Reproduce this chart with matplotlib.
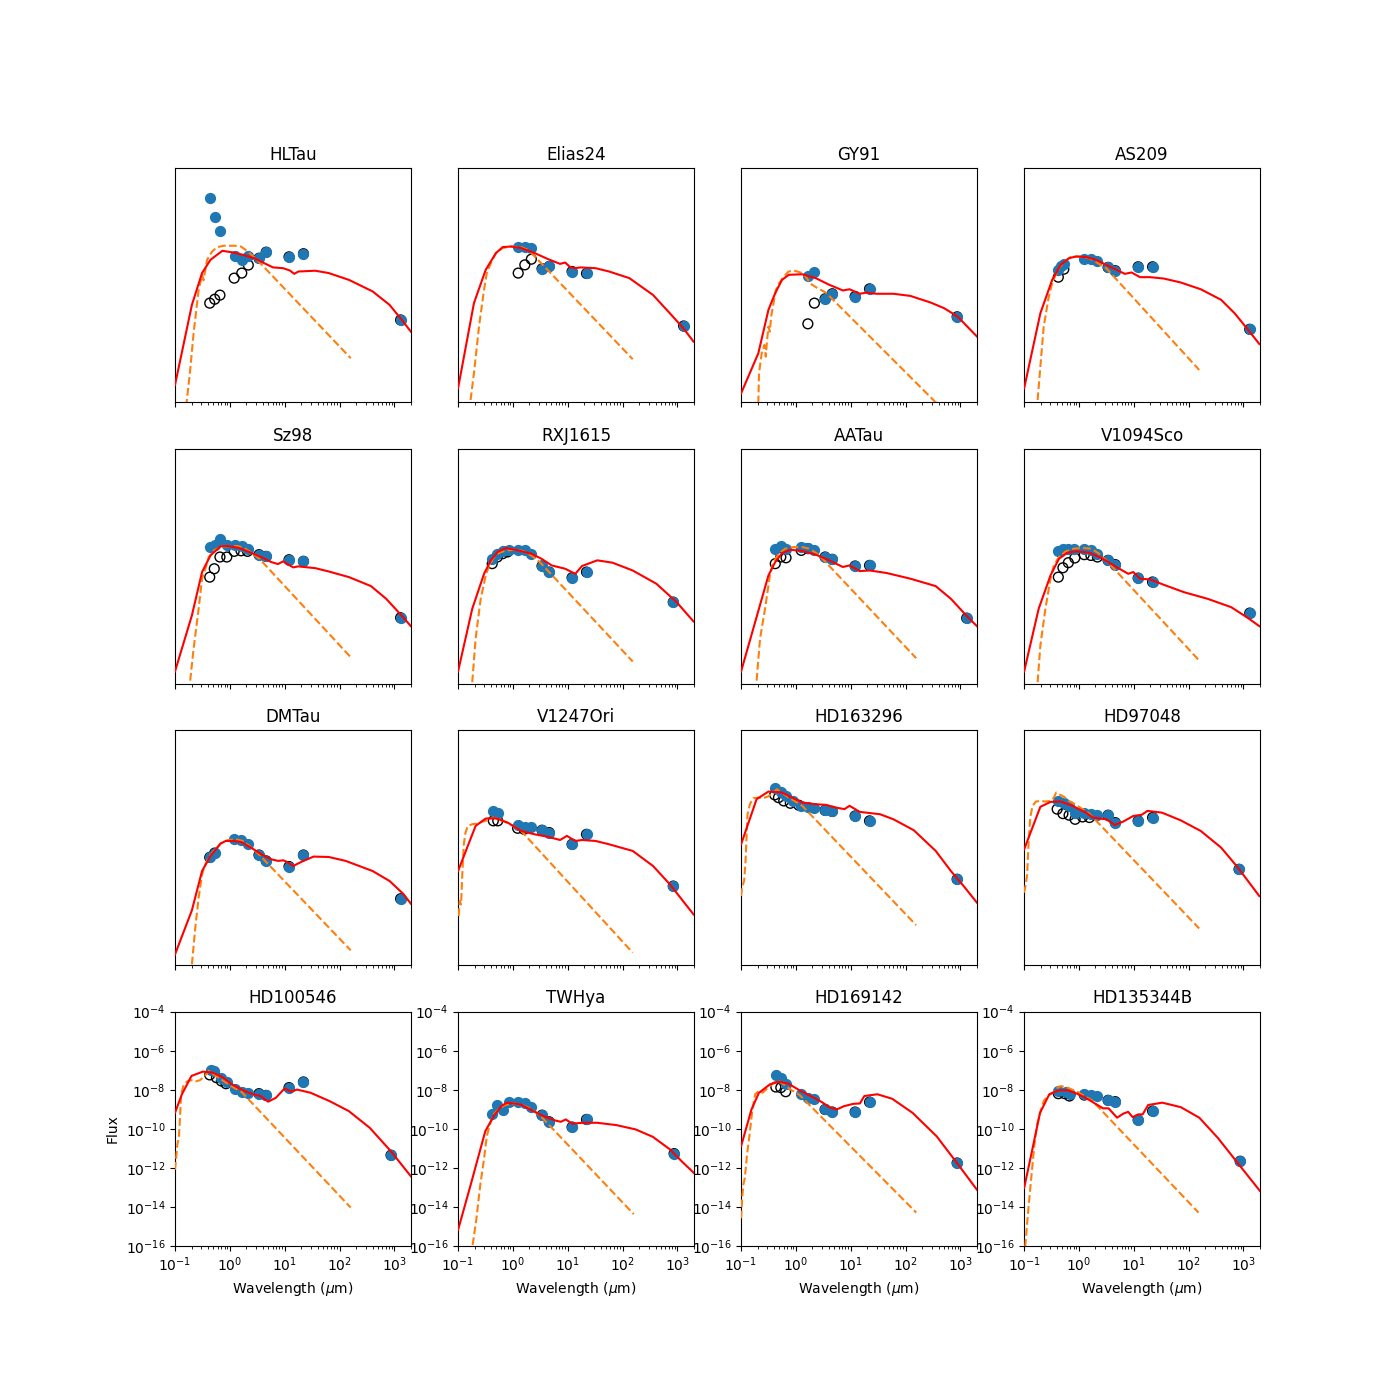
import numpy as np
import matplotlib
matplotlib.use('Agg')
import matplotlib.pyplot as plt
from matplotlib.ticker import NullLocator

names = ['HLTau', 'Elias24', 'GY91', 'AS209',
         'Sz98', 'RXJ1615', 'AATau', 'V1094Sco',
         'DMTau', 'V1247Ori', 'HD163296', 'HD97048',
         'HD100546', 'TWHya', 'HD169142', 'HD135344B']

# dereddened photometry (blue): wavelength in micron, log10 flux
phot_wl = {
    'HLTau': [0.43, 0.53, 0.66, 1.25, 1.65, 2.17, 3.4, 4.6, 12, 22, 1300],
    'Elias24': [1.25, 1.65, 2.17, 3.4, 4.6, 12, 22, 1300],
    'GY91': [1.65, 2.17, 3.4, 4.6, 12, 22, 870],
    'AS209': [0.42, 0.48, 0.53, 1.25, 1.65, 2.17, 3.4, 4.6, 12, 22, 1300],
    'Sz98': [0.43, 0.53, 0.66, 0.88, 1.25, 1.65, 2.17, 3.4, 4.6, 12, 22, 1300],
    'RXJ1615': [0.42, 0.51, 0.65, 0.86, 1.25, 1.65, 2.17, 3.4, 4.6, 12, 22, 840],
    'AATau': [0.42, 0.53, 0.66, 1.25, 1.65, 2.17, 3.4, 4.6, 12, 22, 1300],
    'V1094Sco': [0.42, 0.51, 0.64, 0.82, 1.25, 1.65, 2.17, 3.4, 4.6, 12, 22, 1300],
    'DMTau': [0.43, 0.53, 1.2, 1.6, 2.1, 3.4, 4.6, 12, 22, 1300],
    'V1247Ori': [0.44, 0.54, 1.25, 1.65, 2.17, 3.4, 4.6, 12, 22, 840],
    'HD163296': [0.42, 0.53, 0.66, 0.88, 1.25, 1.65, 2.17, 3.4, 4.6, 12, 22, 870],
    'HD97048': [0.42, 0.53, 0.66, 0.85, 1.25, 1.65, 2.17, 3.4, 4.6, 12, 22, 830],
    'HD100546': [0.45, 0.52, 0.70, 0.88, 1.25, 1.65, 2.17, 3.4, 4.6, 12, 22, 870],
    'TWHya': [0.41, 0.52, 0.67, 0.85, 1.25, 1.65, 2.17, 3.4, 4.6, 12, 22, 870],
    'HD169142': [0.44, 0.54, 0.66, 1.25, 1.65, 2.17, 3.4, 4.6, 12, 22, 870],
    'HD135344B': [0.42, 0.58, 0.68, 1.25, 1.65, 2.17, 3.4, 4.6, 12, 22, 870],
}
phot_lf = {
    'HLTau': [-5.54, -6.51, -7.21, -8.50, -8.70, -8.50, -8.62, -8.31, -8.55, -8.39, -11.78],
    'Elias24': [-8.02, -8.05, -8.10, -9.16, -9.04, -9.30, -9.40, -12.09],
    'GY91': [-9.52, -9.32, -10.70, -10.44, -10.58, -10.19, -11.62],
    'AS209': [-9.21, -9.01, -8.91, -8.67, -8.65, -8.74, -9.09, -9.26, -9.06, -9.06, -12.26],
    'Sz98': [-9.03, -8.89, -8.58, -8.89, -8.89, -8.96, -9.09, -9.40, -9.49, -9.66, -9.74, -12.63],
    'RXJ1615': [-9.64, -9.35, -9.23, -9.18, -9.15, -9.18, -9.35, -9.98, -10.29, -10.58, -10.29, -11.83],
    'AATau': [-9.13, -8.97, -9.13, -9.01, -9.04, -9.18, -9.52, -9.64, -9.98, -9.95, -12.65],
    'V1094Sco': [-9.23, -9.09, -9.09, -9.13, -9.13, -9.18, -9.35, -9.69, -9.91, -10.60, -10.80, -12.39],
    'DMTau': [-10.48, -10.26, -9.57, -9.61, -9.83, -10.38, -10.68, -10.97, -10.38, -12.62],
    'V1247Ori': [-8.12, -8.21, -8.84, -8.94, -8.97, -9.11, -9.23, -9.83, -9.32, -11.97],
    'HD163296': [-6.96, -7.13, -7.35, -7.61, -7.86, -7.91, -7.98, -8.09, -8.15, -8.38, -8.63, -11.62],
    'HD97048': [-7.61, -7.74, -7.86, -8.24, -8.21, -8.29, -8.34, -8.34, -8.72, -8.63, -8.46, -11.11],
    'HD100546': [-7.00, -7.03, -7.41, -7.58, -7.94, -8.10, -8.18, -8.20, -8.29, -7.89, -7.60, -11.35],
    'TWHya': [-9.26, -8.78, -9.06, -8.61, -8.61, -8.70, -8.89, -9.30, -9.64, -9.91, -9.52, -11.27],
    'HD169142': [-7.24, -7.41, -7.68, -8.23, -8.41, -8.49, -9.01, -9.14, -9.14, -8.63, -11.75],
    'HD135344B': [-8.06, -8.10, -8.20, -8.23, -8.29, -8.32, -8.54, -8.61, -9.55, -9.09, -11.66],
}

# observed (not dereddened) short-wavelength photometry (open circles)
obs_wl = {
    'HLTau': [0.43, 0.53, 0.66, 1.2, 1.65, 2.17],
    'Elias24': [1.25, 1.65, 2.17],
    'GY91': [1.65, 2.17],
    'AS209': [0.42, 0.53],
    'Sz98': [0.43, 0.52, 0.66, 0.88, 1.2, 1.6, 2.1],
    'RXJ1615': [0.42, 0.52, 0.65, 0.8],
    'AATau': [0.42, 0.53, 0.66, 1.25, 1.65],
    'V1094Sco': [0.42, 0.51, 0.64, 0.84, 1.25, 1.65, 2.17],
    'DMTau': [0.43, 0.53],
    'V1247Ori': [0.44, 0.53, 1.22, 1.6],
    'HD163296': [0.41, 0.48, 0.6, 0.79, 1.13],
    'HD97048': [0.40, 0.51, 0.66, 0.85, 1.16, 1.55],
    'HD100546': [0.43, 0.57, 0.70, 0.85],
    'TWHya': [],
    'HD169142': [0.43, 0.53, 0.65],
    'HD135344B': [0.42, 0.55, 0.67, 1.25],
}
obs_lf = {
    'HLTau': [-10.92, -10.72, -10.51, -9.64, -9.38, -8.97],
    'Elias24': [-9.38, -8.96, -8.67],
    'GY91': [-11.98, -10.92],
    'AS209': [-9.59, -9.18],
    'Sz98': [-10.55, -10.12, -9.52, -9.52, -9.23, -9.20, -9.23],
    'RXJ1615': [-9.86, -9.52, -9.35, -9.26],
    'AATau': [-9.86, -9.52, -9.56, -9.18, -9.09],
    'V1094Sco': [-10.55, -10.07, -9.81, -9.57, -9.40, -9.44, -9.52],
    'DMTau': [-10.50, -10.28],
    'V1247Ori': [-8.63, -8.63, -9.01, -9.06],
    'HD163296': [-7.30, -7.44, -7.61, -7.73, -7.83],
    'HD97048': [-8.03, -8.26, -8.34, -8.55, -8.43, -8.46],
    'HD100546': [-7.24, -7.38, -7.55, -7.69],
    'TWHya': [],
    'HD169142': [-7.86, -7.89, -8.10],
    'HD135344B': [-8.20, -8.20, -8.32, -8.27],
}

# model SED (red): log10 wavelength, log10 flux
model_lw = {
    'HLTau': [-1.0, -0.692, -0.507, -0.353, -0.137, 0.047, 0.232, 0.448, 0.602, 0.787, 0.972, 1.095, 1.175, 1.249, 1.557, 1.803, 2.173, 2.604, 2.913, 3.159, 3.301],
    'Elias24': [-1.0, -0.710, -0.495, -0.310, -0.187, -0.033, 0.152, 0.399, 0.645, 0.861, 0.953, 1.046, 1.138, 1.230, 1.508, 1.754, 2.124, 2.555, 2.863, 3.110, 3.294],
    'GY91': [-1.0, -0.686, -0.501, -0.378, -0.254, -0.131, 0.115, 0.362, 0.608, 0.855, 0.978, 1.163, 1.286, 1.471, 1.779, 2.087, 2.457, 2.703, 2.949, 3.301],
    'AS209': [-1.0, -0.704, -0.489, -0.335, -0.181, -0.057, 0.128, 0.312, 0.497, 0.682, 0.836, 0.959, 1.113, 1.298, 1.545, 1.853, 2.222, 2.592, 2.839, 3.085, 3.288],
    'Sz98': [-1.0, -0.692, -0.507, -0.353, -0.168, -0.014, 0.171, 0.386, 0.602, 0.756, 0.879, 0.972, 1.064, 1.157, 1.249, 1.557, 1.803, 2.173, 2.574, 2.851, 3.159, 3.301],
    'RXJ1615': [-1.0, -0.741, -0.526, -0.402, -0.279, -0.125, 0.091, 0.337, 0.522, 0.707, 0.953, 1.138, 1.261, 1.539, 1.816, 2.185, 2.617, 2.986, 3.294],
    'AATau': [-1.0, -0.501, -0.378, -0.254, -0.100, 0.115, 0.362, 0.608, 0.855, 0.978, 1.163, 1.347, 1.656, 2.087, 2.549, 2.826, 3.134, 3.301],
    'V1094Sco': [-1.0, -0.735, -0.519, -0.365, -0.211, -0.057, 0.189, 0.436, 0.682, 0.898, 0.990, 1.113, 1.298, 1.545, 1.914, 2.346, 2.777, 3.085, 3.288],
    'DMTau': [-1.0, -0.692, -0.507, -0.353, -0.168, -0.076, 0.078, 0.201, 0.386, 0.571, 0.756, 0.879, 0.972, 1.033, 1.157, 1.311, 1.526, 1.803, 2.111, 2.604, 2.913, 3.159, 3.301],
    'V1247Ori': [-1.0, -0.680, -0.495, -0.310, -0.094, 0.152, 0.399, 0.645, 0.861, 0.984, 1.138, 1.261, 1.508, 1.754, 2.185, 2.555, 2.863, 3.294],
    'HD163296': [-1.0, -0.717, -0.501, -0.254, -0.070, 0.115, 0.362, 0.547, 0.731, 0.885, 0.978, 1.163, 1.532, 1.779, 2.149, 2.549, 2.826, 3.073, 3.301],
    'HD97048': [-1.0, -0.704, -0.519, -0.335, -0.119, 0.128, 0.251, 0.497, 0.651, 0.805, 0.990, 1.144, 1.249, 1.514, 1.853, 2.222, 2.592, 2.900, 3.288],
    'HD100546': [-1.0, -0.874, -0.699, -0.490, -0.315, -0.140, 0.035, 0.245, 0.420, 0.559, 0.699, 0.839, 1.000, 1.119, 1.224, 1.469, 1.818, 2.168, 2.552, 2.937, 3.301],
    'TWHya': [-1.0, -0.769, -0.503, -0.350, -0.210, -0.105, 0.140, 0.350, 0.559, 0.769, 0.874, 0.965, 1.084, 1.259, 1.538, 1.888, 2.238, 2.552, 2.867, 3.077, 3.301],
    'HD169142': [-1.0, -0.811, -0.676, -0.473, -0.305, -0.136, 0.067, 0.269, 0.472, 0.607, 0.742, 0.877, 1.046, 1.167, 1.248, 1.485, 1.755, 2.126, 2.565, 2.937, 3.301],
    'HD135344B': [-1.0, -0.845, -0.710, -0.541, -0.372, -0.203, -0.034, 0.168, 0.337, 0.438, 0.540, 0.695, 0.810, 0.897, 0.978, 1.080, 1.161, 1.262, 1.518, 1.856, 2.194, 2.531, 2.869, 3.308],
}
model_lf = {
    'HLTau': [-15.11, -11.01, -9.38, -8.70, -8.24, -8.32, -8.44, -8.62, -8.84, -9.09, -9.13, -9.25, -9.42, -9.30, -9.26, -9.38, -9.73, -10.32, -11.01, -11.86, -12.38],
    'Elias24': [-15.28, -10.92, -9.21, -8.36, -8.05, -8.02, -8.10, -8.36, -8.67, -8.91, -8.84, -9.08, -9.13, -9.09, -9.13, -9.30, -9.64, -10.50, -11.44, -12.21, -12.89],
    'GY91': [-15.54, -13.49, -11.26, -10.41, -9.73, -9.47, -9.44, -9.64, -9.98, -10.27, -10.21, -10.44, -10.38, -10.44, -10.44, -10.55, -10.89, -11.18, -11.61, -12.63],
    'AS209': [-15.28, -11.44, -9.73, -8.96, -8.62, -8.53, -8.56, -8.70, -8.96, -9.21, -9.42, -9.35, -9.59, -9.59, -9.66, -9.86, -10.21, -10.75, -11.44, -12.29, -13.01],
    'Sz98': [-15.38, -12.51, -10.29, -9.44, -8.97, -8.96, -9.06, -9.30, -9.56, -9.78, -9.88, -9.74, -9.91, -10.05, -10.00, -10.09, -10.26, -10.55, -11.01, -11.66, -12.60, -13.06],
    'RXJ1615': [-15.38, -12.17, -10.38, -9.69, -9.26, -9.06, -9.18, -9.35, -9.61, -9.95, -10.12, -10.38, -9.98, -9.69, -9.81, -10.21, -10.89, -11.83, -12.82],
    'AATau': [-15.38, -10.46, -9.78, -9.32, -9.15, -9.21, -9.40, -9.69, -10.03, -9.95, -10.24, -10.21, -10.34, -10.63, -11.01, -11.66, -12.60, -13.06],
    'V1094Sco': [-15.38, -12.17, -10.46, -9.61, -9.30, -9.23, -9.30, -9.61, -10.03, -10.38, -10.29, -10.63, -10.67, -10.94, -11.32, -11.66, -12.09, -12.65, -13.06],
    'DMTau': [-15.47, -13.21, -11.20, -10.43, -9.79, -9.66, -9.66, -9.71, -10.00, -10.34, -10.60, -10.68, -10.65, -10.72, -10.94, -10.72, -10.46, -10.48, -10.68, -11.20, -11.71, -12.36, -12.87],
    'V1247Ori': [-11.20, -8.89, -8.51, -8.50, -8.72, -9.15, -9.32, -9.45, -9.61, -9.40, -9.66, -9.61, -9.66, -9.83, -10.17, -10.94, -11.88, -13.42],
    'HD163296': [-9.83, -7.52, -7.13, -7.18, -7.44, -7.69, -7.78, -7.81, -7.95, -8.03, -7.86, -8.17, -8.29, -8.55, -9.11, -10.17, -11.20, -12.02, -12.82],
    'HD97048': [-10.09, -7.91, -7.66, -7.64, -7.86, -8.21, -8.46, -8.55, -8.84, -8.67, -8.38, -8.32, -8.12, -8.21, -8.60, -9.15, -10.00, -11.03, -12.48],
    'HD100546': [-9.18, -8.23, -7.29, -7.07, -7.12, -7.34, -7.72, -8.03, -8.23, -8.32, -8.61, -8.41, -7.93, -8.10, -7.99, -8.15, -8.58, -9.09, -9.95, -11.15, -12.43],
    'TWHya': [-15.18, -12.86, -10.12, -9.35, -8.83, -8.66, -8.75, -9.06, -9.35, -9.57, -9.64, -9.52, -9.74, -9.69, -9.69, -9.81, -10.03, -10.41, -11.06, -11.66, -12.26],
    'HD169142': [-10.89, -9.01, -8.16, -7.72, -7.59, -7.69, -8.03, -8.32, -8.63, -8.89, -9.01, -8.84, -8.72, -8.70, -8.32, -8.23, -8.46, -9.18, -10.38, -11.75, -13.12],
    'HD135344B': [-13.03, -10.98, -9.18, -8.23, -8.03, -8.03, -8.20, -8.49, -8.78, -8.95, -8.95, -9.43, -9.22, -9.13, -9.40, -9.26, -9.26, -8.78, -8.66, -8.89, -9.43, -10.46, -11.66, -13.21],
}

# stellar photosphere (orange dashed): log10 wavelength, log10 flux
star_lw = {
    'HLTau': [-0.797, -0.723, -0.661, -0.569, -0.507, -0.480, -0.415, -0.322, -0.230, -0.107, 0.078, 0.201, 0.325, 0.510, 2.204],
    'Elias24': [-0.772, -0.710, -0.618, -0.526, -0.476, -0.402, -0.310, -0.187, -0.033, 0.152, 0.275, 0.399, 2.185],
    'GY91': [-0.686, -0.673, -0.624, -0.575, -0.550, -0.526, -0.501, -0.476, -0.452, -0.408, -0.365, -0.304, -0.224, -0.131, -0.039, 0.084, 0.177, 0.269, 0.392, 0.546, 2.620],
    'AS209': [-0.754, -0.704, -0.643, -0.550, -0.489, -0.439, -0.365, -0.273, -0.150, 0.004, 0.189, 0.343, 0.497, 2.192],
    'Sz98': [-0.723, -0.661, -0.569, -0.507, -0.445, -0.384, -0.291, -0.168, -0.014, 0.140, 0.263, 0.417, 0.540, 2.204],
    'RXJ1615': [-0.741, -0.680, -0.587, -0.495, -0.433, -0.341, -0.248, -0.125, 0.029, 0.183, 0.337, 0.491, 2.185],
    'AATau': [-0.717, -0.655, -0.563, -0.470, -0.408, -0.316, -0.193, -0.039, 0.115, 0.238, 0.362, 0.485, 2.192],
    'V1094Sco': [-0.754, -0.704, -0.612, -0.519, -0.458, -0.365, -0.242, -0.088, 0.066, 0.220, 0.343, 0.497, 2.192],
    'DMTau': [-0.692, -0.630, -0.569, -0.507, -0.445, -0.384, -0.291, -0.168, -0.045, 0.109, 0.232, 0.356, 0.510, 2.204],
    'V1247Ori': [-0.988, -0.969, -0.945, -0.920, -0.895, -0.864, -0.821, -0.741, -0.649, -0.556, -0.464, -0.372, -0.248, -0.156, -0.063, 0.029, 0.152, 2.185],
    'HD163296': [-1.0, -0.982, -0.945, -0.920, -0.901, -0.883, -0.840, -0.778, -0.686, -0.593, -0.501, -0.408, -0.347, -0.254, -0.131, -0.008, 0.115, 2.192],
    'HD97048': [-1.0, -0.969, -0.945, -0.920, -0.889, -0.846, -0.784, -0.704, -0.612, -0.519, -0.458, -0.415, -0.365, -0.273, -0.181, -0.057, 0.066, 0.189, 2.192],
    'HD100546': [-1.0, -0.979, -0.958, -0.930, -0.909, -0.888, -0.839, -0.769, -0.699, -0.629, -0.545, -0.455, -0.385, -0.315, -0.210, -0.070, 0.070, 0.210, 2.203],
    'TWHya': [-0.734, -0.664, -0.594, -0.524, -0.476, -0.420, -0.350, -0.245, -0.140, 0.0, 0.140, 0.315, 0.490, 2.203],
    'HD169142': [-1.0, -0.980, -0.959, -0.932, -0.892, -0.845, -0.797, -0.743, -0.676, -0.608, -0.541, -0.473, -0.406, -0.338, -0.237, -0.102, 0.067, 2.194],
    'HD135344B': [-0.980, -0.953, -0.926, -0.892, -0.858, -0.811, -0.764, -0.710, -0.642, -0.575, -0.473, -0.406, -0.338, -0.237, -0.136, -0.034, 0.101, 0.236, 2.180],
}
star_lf = {
    'HLTau': [-16.22, -14.34, -12.46, -10.24, -9.47, -9.75, -8.70, -8.27, -8.05, -7.98, -7.98, -8.02, -8.27, -8.74, -13.74],
    'Elias24': [-15.88, -14.51, -12.12, -10.24, -9.38, -8.87, -8.36, -8.10, -8.02, -8.05, -8.19, -8.53, -13.79],
    'GY91': [-16.05, -14.51, -13.49, -13.06, -13.66, -12.80, -12.12, -12.38, -11.61, -10.92, -10.24, -9.90, -9.56, -9.30, -9.25, -9.35, -9.56, -9.93, -10.15, -10.38, -16.20],
    'AS209': [-15.88, -14.17, -12.12, -10.58, -9.90, -9.56, -9.13, -8.79, -8.56, -8.53, -8.62, -8.87, -9.13, -14.34],
    'Sz98': [-15.85, -14.22, -12.17, -10.63, -10.12, -9.52, -9.18, -9.01, -8.96, -8.96, -9.06, -9.35, -9.61, -14.65],
    'RXJ1615': [-15.93, -13.71, -11.66, -10.46, -9.95, -9.52, -9.30, -9.18, -9.15, -9.21, -9.44, -9.78, -14.87],
    'AATau': [-15.85, -13.71, -12.17, -10.38, -9.78, -9.35, -9.09, -9.01, -9.01, -9.09, -9.30, -9.61, -14.70],
    'V1094Sco': [-15.93, -14.05, -12.17, -10.63, -9.95, -9.52, -9.23, -9.09, -9.06, -9.09, -9.30, -9.69, -14.82],
    'DMTau': [-15.98, -14.10, -12.56, -11.37, -10.85, -10.51, -10.17, -9.79, -9.62, -9.57, -9.66, -9.91, -10.29, -15.26],
    'V1247Ori': [-13.50, -12.74, -12.91, -11.20, -9.83, -9.23, -8.89, -8.80, -8.77, -8.67, -8.60, -8.46, -8.55, -8.67, -8.77, -8.94, -9.15, -15.38],
    'HD163296': [-12.48, -12.02, -11.71, -10.77, -9.49, -8.29, -7.78, -7.47, -7.44, -7.47, -7.37, -7.18, -7.01, -7.18, -7.44, -7.64, -7.86, -13.97],
    'HD97048': [-12.31, -11.88, -11.37, -9.83, -8.46, -7.86, -7.64, -7.61, -7.64, -7.61, -7.44, -7.18, -7.26, -7.40, -7.61, -7.81, -8.03, -8.26, -14.14],
    'HD100546': [-12.09, -11.49, -10.81, -10.46, -9.43, -8.23, -7.72, -7.55, -7.51, -7.58, -7.51, -7.29, -7.03, -7.17, -7.38, -7.63, -7.89, -8.10, -14.03],
    'TWHya': [-15.95, -14.58, -12.86, -11.49, -10.38, -9.78, -9.26, -8.95, -8.78, -8.71, -8.75, -8.95, -9.30, -14.37],
    'HD169142': [-14.58, -13.55, -12.86, -12.52, -11.32, -10.29, -9.09, -8.23, -8.06, -8.15, -7.98, -7.81, -7.64, -7.52, -7.69, -7.98, -8.27, -14.29],
    'HD135344B': [-16.04, -15.09, -14.20, -13.17, -12.14, -10.77, -9.78, -9.18, -8.58, -8.32, -8.15, -7.93, -7.81, -7.86, -7.98, -8.10, -8.32, -8.54, -14.29],
}

fig, axes = plt.subplots(4, 4, figsize=(14, 14))

for i, name in enumerate(names):
    ax = axes.flat[i]
    wl = np.array(phot_wl[name])
    lf = np.array(phot_lf[name])
    # observed fluxes: the listed short-wavelength ones plus the unreddened IR/mm ones
    long = wl > 3
    ow = np.concatenate([obs_wl[name], wl[long]])
    of = np.concatenate([obs_lf[name], lf[long]])
    ax.scatter(ow, 10**of, s=50, facecolors='none', edgecolors='k', zorder=2)
    ax.scatter(wl, 10**lf, s=50, color='C0', zorder=3)
    ax.plot(10**np.array(star_lw[name]), 10**np.array(star_lf[name]), '--', color='C1', zorder=4)
    ax.plot(10**np.array(model_lw[name]), 10**np.array(model_lf[name]), 'r-', zorder=5)
    ax.set_xscale('log')
    ax.set_yscale('log')
    ax.set_xlim(0.1, 2000)
    ax.set_ylim(1e-16, 1e-4)
    ax.set_title(name)
    if i >= 12:
        ax.set_yticks([1e-16, 1e-14, 1e-12, 1e-10, 1e-8, 1e-6, 1e-4])
        ax.yaxis.set_minor_locator(NullLocator())
        ax.set_xlabel(r'Wavelength ($\mu$m)')
    else:
        ax.set_yticks([])
        ax.yaxis.set_minor_locator(NullLocator())
        ax.tick_params(axis='x', which='both', labelbottom=False)

axes[3, 0].set_ylabel('Flux')

plt.savefig('out.png', dpi=100)
